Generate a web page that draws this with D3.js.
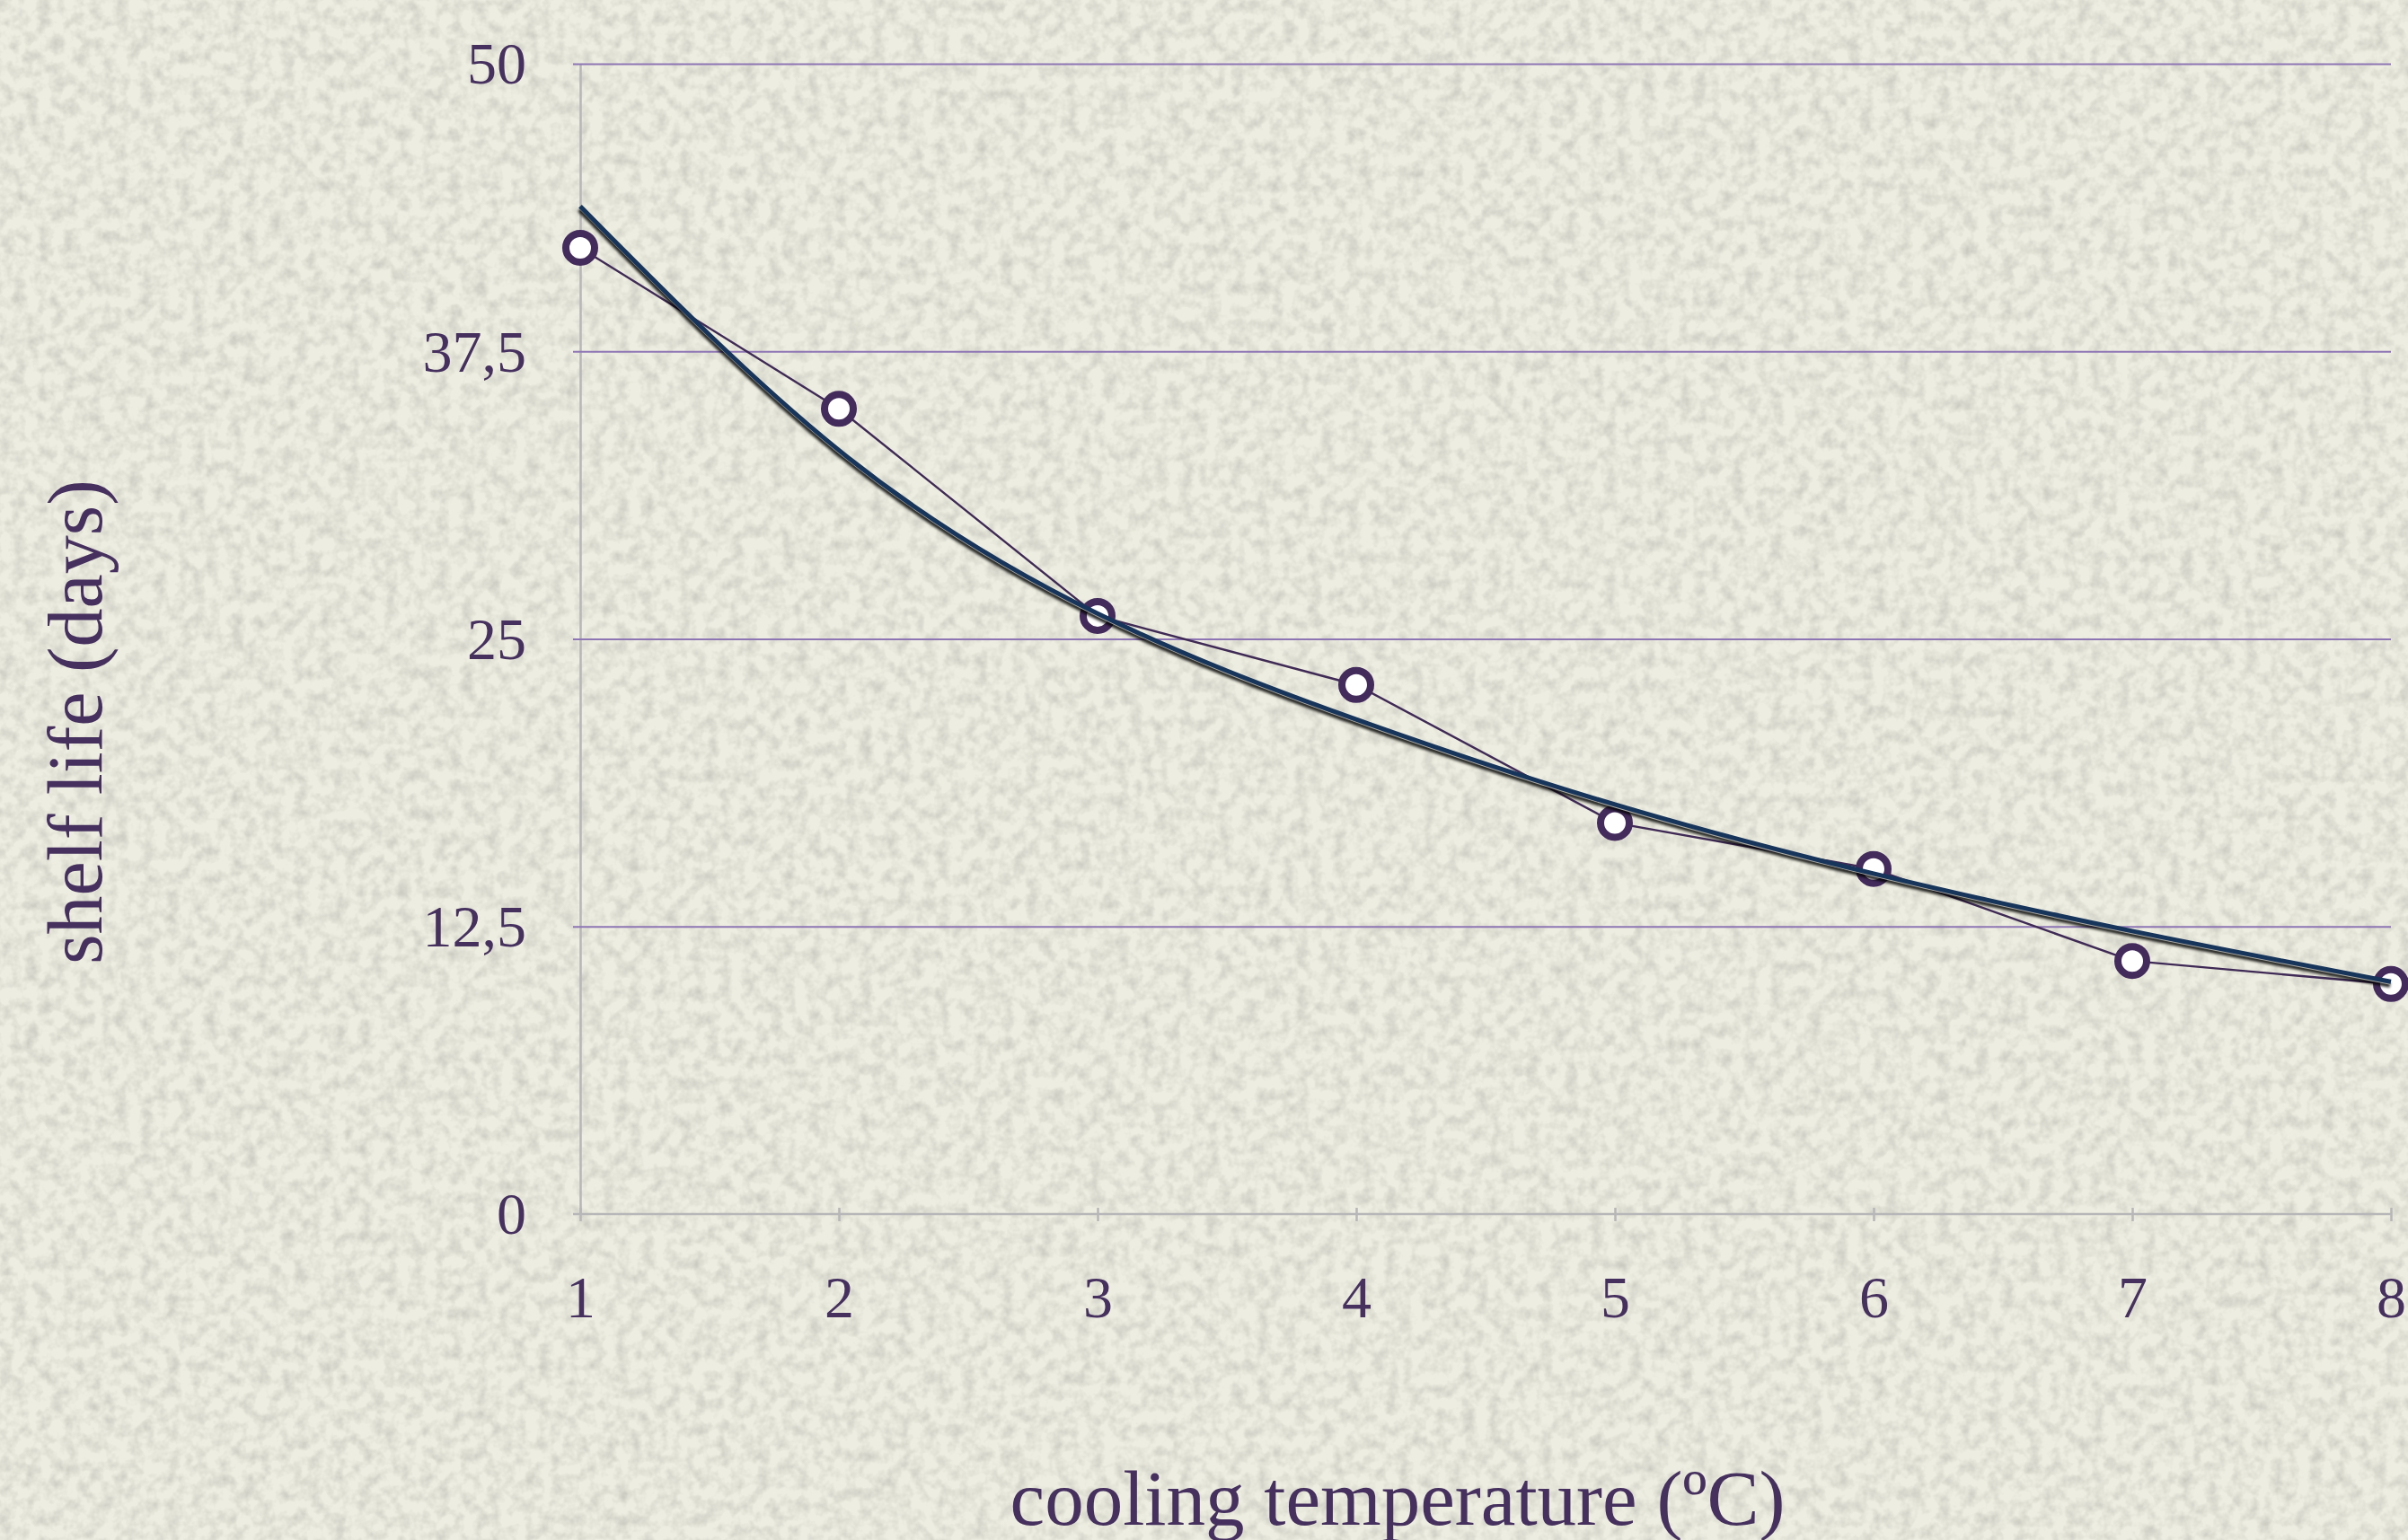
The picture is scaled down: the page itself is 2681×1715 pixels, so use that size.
<!DOCTYPE html>
<html>
<head>
<meta charset="utf-8">
<script src="https://cdn.jsdelivr.net/npm/d3@7"></script>
<style>
    body { margin: 0; background: #edece0; overflow: hidden; }
    svg { display: block; }
</style>
</head>
<body>
<div id="chart"></div>
<script>
(function () {

    // data
    var temperatures = [1, 2, 3, 4, 5, 6, 7, 8];
    var shelfLife = [42, 35, 26, 23, 17, 15, 11, 10];
    var trendLife = [43.8, 33.2, 26.1, 21.5, 17.8, 14.8, 12.3, 10.1];
    var yTicks = [0, 12.5, 25, 37.5, 50];
    var yTickLabels = ["0", "12,5", "25", "37,5", "50"];

    var width = 2681, height = 1715;
    var left = 646, right = 2662, top = 71, bottom = 1352;

    var textColor = "#45305e";
    var gridColor = "#8d76b3";
    var axisColor = "#b7b6b9";
    var fontFamily = "'Liberation Serif', 'Times New Roman', serif";

    var x = d3.scaleLinear().domain([1, 8]).range([left, right]);
    var y = d3.scaleLinear().domain([0, 50]).range([bottom, top]);

    var svg = d3.select("#chart").append("svg")
            .attr("width", width)
            .attr("height", height);

    var defs = svg.append("defs");

    //paper texture
    var paper = defs.append("filter")
            .attr("id", "paper")
            .attr("x", 0).attr("y", 0)
            .attr("width", "100%").attr("height", "100%");
    paper.append("feTurbulence")
            .attr("type", "fractalNoise")
            .attr("baseFrequency", "0.07")
            .attr("numOctaves", 3)
            .attr("seed", 4);
    paper.append("feColorMatrix")
            .attr("type", "matrix")
            .attr("values", "0 0 0 0 0.55  0 0 0 0 0.55  0 0 0 0 0.5  1.5 0 0 0 -0.58");

    //shadow under the trend line
    var shadow = defs.append("filter")
            .attr("id", "shadow")
            .attr("x", "-5%").attr("y", "-5%")
            .attr("width", "110%").attr("height", "110%");
    shadow.append("feGaussianBlur")
            .attr("stdDeviation", 1.6);

    svg.append("rect")
            .attr("width", width)
            .attr("height", height)
            .attr("fill", "#eeede1");
    svg.append("rect")
            .attr("width", width)
            .attr("height", height)
            .attr("filter", "url(#paper)");

    //y axis with gridlines
    var yAxis = svg.append("g")
            .attr("transform", "translate(" + left + ",0)")
            .call(d3.axisLeft(y)
                    .tickValues(yTicks)
                    .tickSize(-(right - left))
                    .tickSizeOuter(0)
                    .tickPadding(60)
                    .tickFormat(function (d, i) {
                        return yTickLabels[i];
                    }));

    yAxis.select(".domain")
            .attr("stroke", axisColor)
            .attr("stroke-width", 2.5);

    yAxis.selectAll(".tick line")
            .attr("x1", -8)
            .attr("stroke", gridColor)
            .attr("stroke-width", 2)
            .style("display", function (d) {
                return d === 0 ? "none" : null;
            });

    yAxis.selectAll(".tick text")
            .attr("fill", textColor)
            .attr("font-family", fontFamily)
            .attr("font-size", 66)
            .attr("dy", "0.33em");

    //x axis
    var xAxis = svg.append("g")
            .attr("transform", "translate(0," + bottom + ")")
            .call(d3.axisBottom(x)
                    .tickValues(temperatures)
                    .tickFormat(d3.format("d"))
                    .tickSize(8)
                    .tickSizeOuter(0)
                    .tickPadding(90));

    xAxis.select(".domain")
            .attr("d", "M" + (left - 8) + ",0H" + right)
            .attr("stroke", axisColor)
            .attr("stroke-width", 2.5);

    xAxis.selectAll(".tick line")
            .attr("y1", -7)
            .attr("stroke", axisColor)
            .attr("stroke-width", 2.5);

    xAxis.selectAll(".tick text")
            .attr("fill", textColor)
            .attr("font-family", fontFamily)
            .attr("font-size", 66)
            .attr("dy", 0)
            .attr("y", 115);

    //measured values
    var line = d3.line()
            .x(function (d, i) { return x(temperatures[i]); })
            .y(function (d) { return y(d); });

    svg.append("path")
            .datum(shelfLife)
            .attr("d", line)
            .attr("fill", "none")
            .attr("stroke", "#3f2a56")
            .attr("stroke-width", 2.4);

    svg.selectAll(".marker")
            .data(shelfLife)
            .enter().append("circle")
            .attr("class", "marker")
            .attr("cx", function (d, i) { return x(temperatures[i]); })
            .attr("cy", function (d) { return y(d); })
            .attr("r", 16)
            .attr("fill", "white")
            .attr("stroke", "#432b5c")
            .attr("stroke-width", 8);

    //trend curve
    var trend = d3.line()
            .x(function (d, i) { return x(temperatures[i]); })
            .y(function (d) { return y(d); })
            .curve(d3.curveNatural);

    svg.append("path")
            .datum(trendLife)
            .attr("d", trend)
            .attr("transform", "translate(-1,4)")
            .attr("fill", "none")
            .attr("stroke", "#000")
            .attr("stroke-opacity", 0.85)
            .attr("stroke-width", 5)
            .attr("filter", "url(#shadow)");

    svg.append("path")
            .datum(trendLife)
            .attr("d", trend)
            .attr("transform", "translate(0,2.5)")
            .attr("fill", "none")
            .attr("stroke", "#a9aaa6")
            .attr("stroke-width", 2);

    svg.append("path")
            .datum(trendLife)
            .attr("d", trend)
            .attr("fill", "none")
            .attr("stroke", "#17345a")
            .attr("stroke-width", 5);

    //axis titles
    svg.append("text")
            .attr("x", 1556)
            .attr("y", 1698)
            .attr("text-anchor", "middle")
            .attr("fill", textColor)
            .attr("font-family", fontFamily)
            .attr("font-size", 87)
            .text("cooling temperature (ºC)");

    svg.append("text")
            .attr("transform", "translate(113,804) rotate(-90)")
            .attr("text-anchor", "middle")
            .attr("fill", textColor)
            .attr("font-family", fontFamily)
            .attr("font-size", 86)
            .text("shelf life (days)");

})();
</script>
</body>
</html>
